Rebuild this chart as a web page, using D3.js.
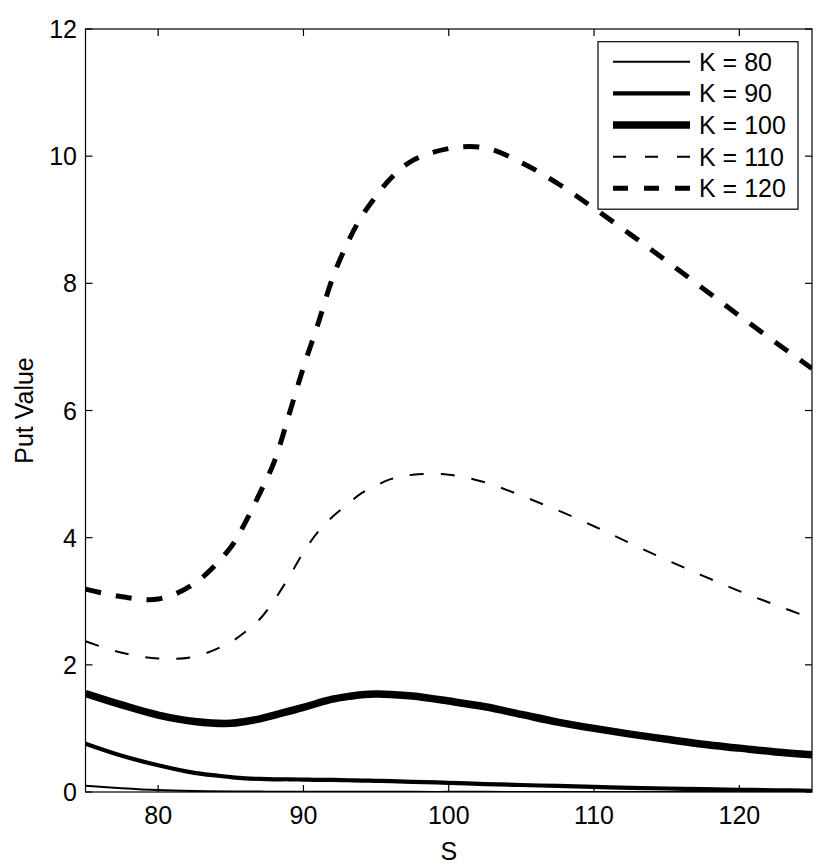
<!DOCTYPE html>
<html>
<head>
<meta charset="utf-8">
<script src="https://cdn.jsdelivr.net/npm/d3@7"></script>
<style>
  html, body { margin: 0; padding: 0; background: #fff; }
  svg { display: block; font-family: "Liberation Sans", Arial, Helvetica, sans-serif; }
</style>
</head>
<body>
<svg id="chart" width="830" height="867"></svg>
<script>
// ---- data ----
const S = [75, 77.5, 80, 82.5, 85, 86, 87, 88, 89, 90, 91, 92, 93, 94, 95, 96, 97.5, 100, 102.5, 105, 107.5, 110, 112.5, 115, 117.5, 120, 122.5, 125];
const K80  = [0.10, 0.06, 0.03, 0.015, 0.008, 0.007, 0.006, 0.005, 0.005, 0.004, 0.004, 0.004, 0.003, 0.003, 0.003, 0.003, 0.002, 0.002, 0.002, 0.001, 0.001, 0.001, 0.001, 0.001, 0, 0, 0, 0];
const K90  = [0.76, 0.57, 0.42, 0.30, 0.235, 0.215, 0.205, 0.20, 0.20, 0.195, 0.19, 0.19, 0.185, 0.18, 0.175, 0.17, 0.16, 0.145, 0.125, 0.11, 0.095, 0.08, 0.065, 0.055, 0.045, 0.035, 0.027, 0.02];
const K100 = [1.55, 1.37, 1.21, 1.11, 1.08, 1.11, 1.15, 1.21, 1.27, 1.33, 1.40, 1.46, 1.50, 1.53, 1.54, 1.535, 1.51, 1.43, 1.34, 1.22, 1.10, 1.00, 0.91, 0.83, 0.75, 0.69, 0.63, 0.585];
const K110 = [2.37, 2.19, 2.10, 2.13, 2.36, 2.52, 2.72, 3.02, 3.38, 3.77, 4.09, 4.33, 4.52, 4.70, 4.82, 4.92, 4.99, 4.99, 4.87, 4.66, 4.43, 4.18, 3.91, 3.65, 3.40, 3.16, 2.94, 2.73];
const K120 = [3.19, 3.07, 3.035, 3.28, 3.85, 4.24, 4.70, 5.20, 5.93, 6.68, 7.36, 8.08, 8.62, 9.05, 9.37, 9.65, 9.93, 10.12, 10.13, 9.90, 9.57, 9.18, 8.77, 8.35, 7.92, 7.49, 7.07, 6.66];
const seriesNames = ["K = 80", "K = 90", "K = 100", "K = 110", "K = 120"];
const seriesValues = [K80, K90, K100, K110, K120];
const xTicks = [80, 90, 100, 110, 120];
const yTicks = [0, 2, 4, 6, 8, 10, 12];
const xLabel = "S";
const yLabel = "Put Value";

// ---- styles ----
const styles = [
  { w: 2,   dash: null },
  { w: 4.2, dash: null },
  { w: 7.5, dash: null },
  { w: 2,   dash: "14,17" },
  { w: 5,   dash: "16,15" }
];

const pL = 85.5, pR = 812, pT = 29, pB = 792;
const svg = d3.select("#chart");
const x = d3.scaleLinear().domain([75, 125]).range([pL, pR]);
const y = d3.scaleLinear().domain([0, 12]).range([pB, pT]);

svg.append("defs").append("clipPath").attr("id", "clip")
  .append("rect").attr("x", pL).attr("y", pT).attr("width", pR - pL).attr("height", pB - pT);

// box
svg.append("rect").attr("x", pL).attr("y", pT).attr("width", pR - pL).attr("height", pB - pT)
  .attr("fill", "none").attr("stroke", "#000").attr("stroke-width", 1.2);

const tl = 7;
const g = svg.append("g").attr("stroke", "#000").attr("stroke-width", 1.2);
xTicks.forEach(t => {
  g.append("line").attr("x1", x(t)).attr("x2", x(t)).attr("y1", pB).attr("y2", pB - tl);
  g.append("line").attr("x1", x(t)).attr("x2", x(t)).attr("y1", pT).attr("y2", pT + tl);
});
yTicks.forEach(t => {
  g.append("line").attr("x1", pL).attr("x2", pL + tl).attr("y1", y(t)).attr("y2", y(t));
  g.append("line").attr("x1", pR).attr("x2", pR - tl).attr("y1", y(t)).attr("y2", y(t));
});

const fs = 25;
svg.append("g").selectAll("text").data(xTicks).join("text")
  .attr("x", d => x(d)).attr("y", 824).attr("text-anchor", "middle")
  .attr("font-size", fs).text(d => d);
svg.append("g").selectAll("text").data(yTicks).join("text")
  .attr("x", 77).attr("y", d => y(d)).attr("dy", "0.36em").attr("text-anchor", "end")
  .attr("font-size", fs).text(d => d);

svg.append("text").attr("x", (pL + pR) / 2).attr("y", 860).attr("text-anchor", "middle")
  .attr("font-size", fs).text(xLabel);
svg.append("text").attr("transform", `translate(33,${(pT + pB) / 2}) rotate(-90)`)
  .attr("text-anchor", "middle").attr("font-size", fs).text(yLabel);

// lines
const line = d3.line().x((d, i) => x(S[i])).y(d => y(d)).curve(d3.curveCatmullRom.alpha(0.5));
const lg = svg.append("g").attr("clip-path", "url(#clip)");
seriesValues.forEach((vals, k) => {
  const p = lg.append("path").attr("d", line(vals)).attr("fill", "none")
    .attr("stroke", "#000").attr("stroke-width", styles[k].w).attr("stroke-linejoin", "round");
  if (styles[k].dash) p.attr("stroke-dasharray", styles[k].dash);
});

// legend
const lgX = 598, lgY = 41.7, lgW = 200, lgH = 167.5;
svg.append("rect").attr("x", lgX).attr("y", lgY).attr("width", lgW).attr("height", lgH)
  .attr("fill", "#fff").attr("stroke", "#000").attr("stroke-width", 1.2);
seriesNames.forEach((name, k) => {
  const ry = 61.7 + k * 31.65;
  const l = svg.append("line").attr("x1", 613).attr("x2", 690).attr("y1", ry).attr("y2", ry)
    .attr("stroke", "#000").attr("stroke-width", styles[k].w);
  if (k === 3) l.attr("stroke-dasharray", "13,19");
  if (k === 4) l.attr("stroke-dasharray", "15,16");
  svg.append("text").attr("x", 699).attr("y", ry).attr("dy", "0.36em")
    .attr("font-size", fs).text(name);
});
</script>
</body>
</html>
